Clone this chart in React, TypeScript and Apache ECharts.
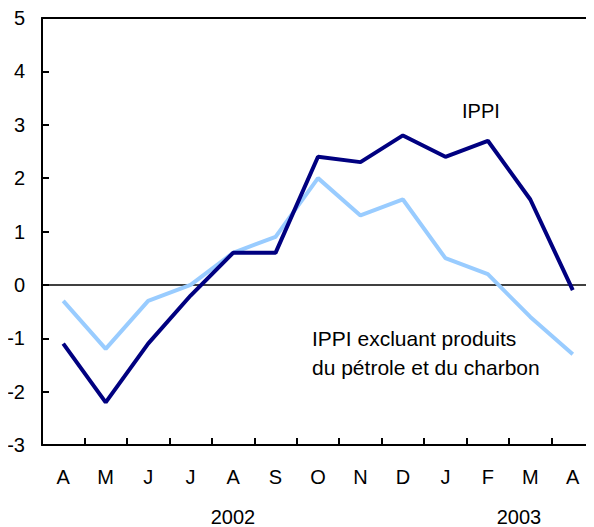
import React, { useEffect, useRef } from "react";
import * as echarts from "echarts";

const months = ["A", "M", "J", "J", "A", "S", "O", "N", "D", "J", "F", "M", "A"];
const ippi = [-1.1, -2.2, -1.1, -0.2, 0.6, 0.6, 2.4, 2.3, 2.8, 2.4, 2.7, 1.6, -0.1];
const ippiExcl = [-0.3, -1.2, -0.3, 0.0, 0.6, 0.9, 2.0, 1.3, 1.6, 0.5, 0.2, -0.6, -1.3];
const yearLabels = ["2002", "2003"];
const FONT = "'Liberation Sans', Arial, sans-serif";

export default function App() {
  const ref = useRef<HTMLDivElement>(null);
  useEffect(() => {
    if (!ref.current) return;
    const chart = echarts.init(ref.current, null, { renderer: "svg" });
    chart.setOption({
      animation: false,
      textStyle: { fontFamily: FONT },
      grid: { left: 42, right: -4, top: 18, bottom: 82 },
      xAxis: [
        {
          type: "category",
          data: months,
          boundaryGap: true,
          position: "bottom",
          axisLine: { show: true, onZero: false, lineStyle: { color: "#000", width: 2 } },
          axisTick: { show: true, inside: true, length: 7, lineStyle: { color: "#000", width: 2 } },
          axisLabel: { color: "#000", fontSize: 20, fontFamily: FONT, margin: 22 },
          splitLine: { show: false },
        },
        {
          type: "category",
          data: months,
          position: "top",
          axisLine: { show: true, onZero: false, lineStyle: { color: "#000", width: 2 } },
          axisTick: { show: false },
          axisLabel: { show: false },
          splitLine: { show: false },
        },
      ],
      yAxis: {
        type: "value",
        min: -3,
        max: 5,
        interval: 1,
        axisLine: { show: true, onZero: false, lineStyle: { color: "#000", width: 2 } },
        axisTick: { show: true, inside: true, length: 7, lineStyle: { color: "#000", width: 2 } },
        axisLabel: { color: "#000", fontSize: 20, fontFamily: FONT, margin: 17 },
        splitLine: { show: false },
      },
      series: [
        {
          name: "IPPI excluant produits du pétrole et du charbon",
          type: "line",
          data: ippiExcl,
          symbol: "none",
          lineStyle: { color: "#99ccff", width: 4 },
          z: 2,
        },
        {
          name: "IPPI",
          type: "line",
          data: ippi,
          symbol: "none",
          lineStyle: { color: "#000080", width: 4 },
          z: 3,
          markLine: {
            silent: true,
            symbol: "none",
            label: { show: false },
            lineStyle: { color: "#000", width: 1.5, type: "solid" },
            data: [{ yAxis: 0 }],
            z: 1,
          },
        },
      ],
      graphic: [
        { type: "text", left: 462, top: 101, style: { text: "IPPI", font: `20px ${FONT}`, fill: "#000" } },
        {
          type: "text",
          left: 312,
          top: 324,
          style: { text: "IPPI excluant produits\ndu pétrole et du charbon", font: `21px ${FONT}`, fill: "#000", lineHeight: 29 },
        },
        { type: "text", x: 233, y: 517, style: { text: yearLabels[0], font: `20px ${FONT}`, fill: "#000", align: "center", verticalAlign: "middle", lineHeight: 18 } },
        { type: "text", x: 519, y: 517, style: { text: yearLabels[1], font: `20px ${FONT}`, fill: "#000", align: "center", verticalAlign: "middle", lineHeight: 18 } },
      ],
    });
    return () => chart.dispose();
  }, []);
  return <div ref={ref} style={{ width: 594, height: 527, margin: "-8px -8px 0 -8px" }} />;
}
